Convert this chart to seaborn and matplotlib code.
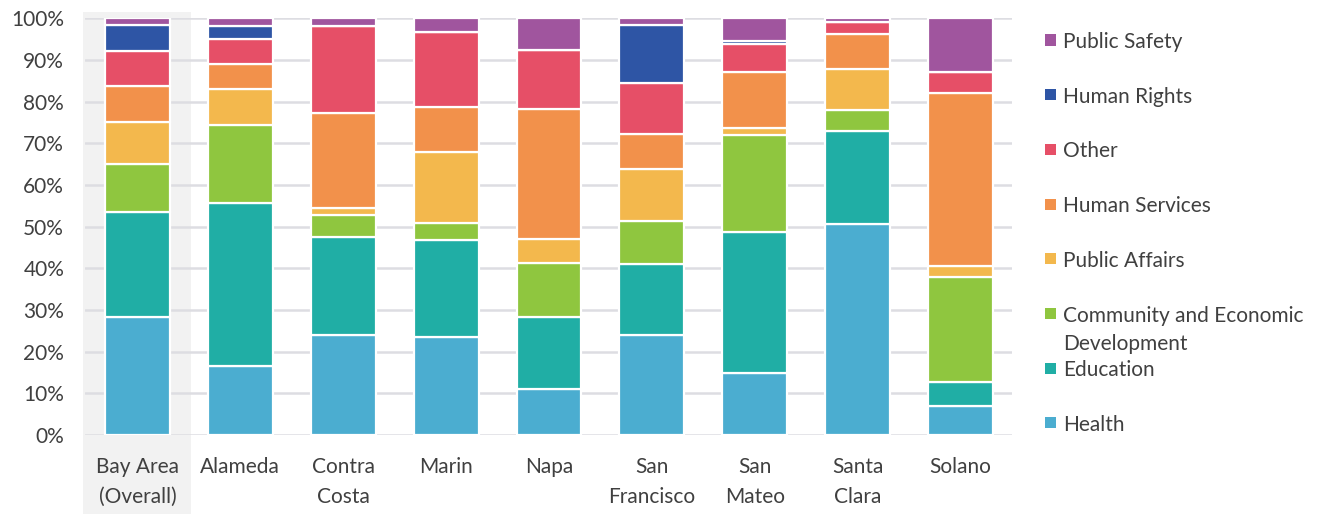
import pandas as pd
import matplotlib
matplotlib.use("Agg")
import matplotlib.pyplot as plt
import matplotlib.transforms as mtransforms
from matplotlib.patches import Rectangle
from matplotlib.ticker import FuncFormatter, MultipleLocator
import seaborn as sns

# Share of grant dollars by issue area, per county (percent of total)
regions = ["Bay Area\n(Overall)", "Alameda", "Contra\nCosta", "Marin", "Napa",
           "San\nFrancisco", "San\nMateo", "Santa\nClara", "Solano"]

health = [28.3, 16.5, 24.0, 23.5, 11.0, 24.1, 14.8, 50.6, 6.9]
education = [25.1, 39.1, 23.6, 23.2, 17.4, 16.9, 33.8, 22.3, 5.7]
community_dev = [11.6, 18.7, 5.1, 4.1, 12.8, 10.3, 23.4, 5.2, 25.3]
public_affairs = [10.0, 8.8, 1.8, 17.1, 5.8, 12.5, 1.6, 9.8, 2.7]
human_services = [8.7, 5.9, 22.7, 10.8, 31.3, 8.4, 13.4, 8.3, 41.4]
other = [8.5, 6.0, 20.9, 17.9, 14.1, 12.3, 6.9, 3.0, 5.1]
human_rights = [6.1, 3.1, 0.0, 0.0, 0.0, 13.8, 0.6, 0.0, 0.0]
public_safety = [1.7, 1.9, 1.9, 3.4, 7.6, 1.7, 5.5, 0.8, 12.9]

# Stack order from top to bottom
areas = ["Public Safety", "Human Rights", "Other", "Human Services",
         "Public Affairs", "Community and Economic\nDevelopment",
         "Education", "Health"]
series = [public_safety, human_rights, other, human_services,
          public_affairs, community_dev, education, health]
colors = ["#A0559E", "#2E55A5", "#E64F67", "#F2914B",
          "#F3B84D", "#8FC63F", "#20AEA5", "#4BADD0"]

rows = []
for r_i, region in enumerate(regions):
    for area, vals in zip(areas, series):
        rows.append({"region": region, "area": area, "share": vals[r_i]})
df = pd.DataFrame(rows)

sns.set_theme(style="white")
plt.rcParams["font.family"] = ["Lato", "DejaVu Sans"]
text_color = "#404040"
fs = 15

fig = plt.figure(figsize=(13.34, 5.14), dpi=100)
ax = fig.add_axes([85 / 1334, 79 / 514, (1012 - 85) / 1334, (435 - 18.3) / 514])

sns.histplot(data=df, x="region", weights="share", hue="area",
             hue_order=areas, palette=colors, multiple="stack",
             discrete=True, shrink=0.63, edgecolor="white", linewidth=1.6,
             alpha=1, legend=False, ax=ax)

# Highlight band behind the regional total
band_tf = mtransforms.blended_transform_factory(ax.transData, ax.transAxes)
ax.add_patch(Rectangle((-0.525, -0.2), 1.05, 1.215, transform=band_tf,
                       facecolor="#F2F2F2", edgecolor="none", zorder=0,
                       clip_on=False))

ax.set_ylim(0, 100)
ax.set_xlim(-0.51, 8.5)
ax.yaxis.set_major_locator(MultipleLocator(10))
ax.yaxis.set_major_formatter(FuncFormatter(lambda v, _: f"{v:.0f}%"))
ax.set_axisbelow(True)
ax.yaxis.grid(True, color="#DDDDE2", linewidth=1.8)
ax.xaxis.grid(False)
for s in ax.spines.values():
    s.set_visible(False)
ax.set_xlabel("")
ax.set_ylabel("")
ax.tick_params(axis="y", length=0, pad=15, labelsize=fs, labelcolor=text_color)
ax.tick_params(axis="x", length=0, pad=16, labelsize=fs, labelcolor=text_color)
for lbl in ax.get_xticklabels():
    lbl.set_linespacing(1.6)

# Legend drawn as a column of swatches and labels
W, H = 1334, 514
for i, (area, col) in enumerate(zip(areas, colors)):
    yc = 40 + i * 54.7
    fig.add_artist(Rectangle((1045 / W, 1 - (yc + 5.5) / H), 11 / W, 11 / H,
                             transform=fig.transFigure, facecolor=col,
                             edgecolor="none"))
    for j, line in enumerate(area.split("\n")):
        fig.text(1063 / W, 1 - (yc + j * 28) / H, line, fontsize=fs,
                 color=text_color, va="center_baseline", ha="left")

fig.savefig("out.png", dpi=100)
